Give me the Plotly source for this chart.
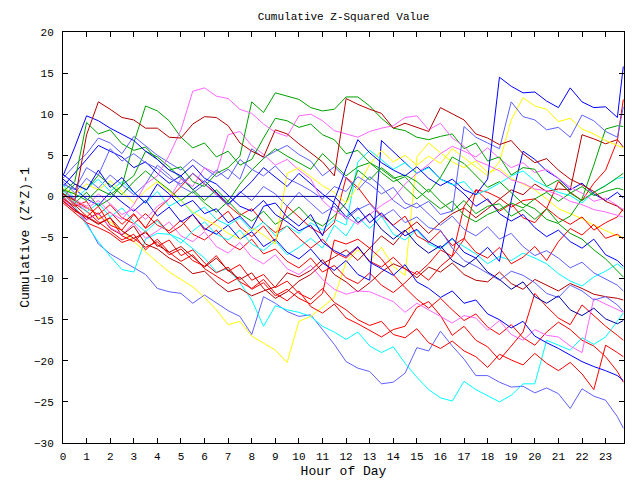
import plotly.graph_objects as go

# Hours (half-hourly samples plus the final quarter hour)
HOURS = [h * 0.5 for h in range(48)] + [23.75]
X_TICKS = list(range(24))
X_TICK_LABELS = [str(h) for h in X_TICKS]
Y_TICKS = [-30, -25, -20, -15, -10, -5, 0, 5, 10, 15, 20]

COLORS = {
    "red": "#ff0000", "darkred": "#b40000", "blue": "#0000ff", "lightblue": "#5f5fff",
    "green": "#00a000", "magenta": "#ff66ff", "cyan": "#00ffff", "yellow": "#ffff00",
    "navy": "#0000a0",
}

s01 = [0.3,-0.5,7.5,11.5,10.6,9.6,9.3,8.3,8.3,7.2,7.1,8.8,
       9.7,9.6,8.6,6.5,5.5,4.8,8.1,7.6,6.4,5.3,4.2,2.5,
       11.9,11.2,10.6,10.1,8.3,8.9,8.4,7.9,10.8,10.1,9.3,7.6,
       7.1,6.3,6.8,5.2,4.1,4.6,3.2,2.1,1.4,0.6,-0.6,-1.2,-1.8]
s02 = [2.5,6,9.8,9.2,8.3,7.5,6.8,5.5,4.5,3.2,2.5,3.8,
       2.2,1.5,0.2,-1.2,-1.8,-0.5,-2.2,-3.1,-4.2,-3.5,-5.6,-6.6,
       -7.3,-6.1,-8,-8.8,-9.6,-8.3,-10.4,-11.2,-12.3,-11.5,-13,-12.6,
       -14.3,-15,-16,-15.2,-17,-17.8,-18.5,-19.3,-20.1,-20.7,-21.2,-21.8,-22.4]
s03 = [0.2,-0.8,-1.5,-0.5,-2,-2.8,-1,1.5,2.5,5,8.1,12.8,
       13.2,12.2,11.9,10.6,10.1,8.8,7.8,7.3,9.8,10,9.2,8,
       7.6,7.2,7.9,8.3,8.6,9.6,9.8,8.1,8.9,7.1,6.1,4.4,
       3.8,3.1,2,1.6,0.9,0.7,0.2,-0.6,-1,-1.6,-1.9,-2.3,-2.5]
s04 = [0.6,1.8,9,7.6,8.1,6.4,5.6,6,4.5,3.2,3.6,1.8,
       1.2,2.8,3.5,4.9,11.5,10.2,12.6,12.2,11.8,10.8,10.4,10.6,
       12.1,12.1,11,9.5,8.3,8,7.2,6.9,7.3,7.6,5.8,6.5,
       4.3,4.8,2.6,3.5,3.3,1.2,2,0.4,-0.5,0.5,1.3,2.3,2.8]
s05 = [0.8,0.3,-0.5,0.9,0.2,1.3,6.5,11,10.4,9.2,7.2,5.9,
       6.5,4.8,5.5,3.8,4.5,7.1,9.5,9.2,8.4,8.8,7.5,6.9,
       5.2,5.6,4.1,3.3,2.2,2.6,1.8,0.5,2.3,4.8,4,2.6,
       1.1,1.8,0.5,-0.9,-1.5,-2.8,-3.3,-4.5,-5.2,-6.5,-7.6,-9,-9.8]
s06 = [2.7,1.5,0.8,3.2,1.1,2.3,0.5,-0.8,1.5,0.3,-1.2,-0.5,
       -2.1,-1.5,-3.2,-2.4,-3.9,-1.2,-0.8,-2.5,-3.6,-2.2,-4.8,-0.5,
       3.4,6.9,5.3,4.1,3.2,2.5,3.6,2.2,1.3,2.1,0.8,0.2,
       2.1,14.5,13.4,12.6,12.7,11.6,10.8,13.2,11.5,10.8,10.9,9.6,15.8]
s07 = [1.5,0.8,3.5,2.6,5.8,4.3,5.2,4.1,3.4,2.2,1.5,2.8,
       1.7,3.2,2.1,4.5,3.3,2.5,3.7,2.2,1.5,0.7,-0.3,1.2,
       0.6,2.4,1.5,0.3,1.1,-0.8,-1.4,-0.6,-2.2,-1.8,8.5,7.2,
       6.5,5.8,11.5,9.7,9.3,8.1,8.4,7.2,9.9,9.2,7.9,7.2,10.9]
s08 = [0,0,0,0,0,0,0,0,0,0,0,0,
       0,0,0,0,0,0,0,0,0,0,0,0,
       -1.5,-3.2,-2.1,-4,-5.2,-4.1,-5.8,-6.9,-6,-7.8,-8.6,-7.5,
       -9.2,-10.1,-11.3,-10.4,-12.2,-13,-12.1,-13.8,-14.5,-13.6,-14.9,-15.5,-15.1]
s09 = [-0.2,-1.5,-3.2,-5.8,-7,-7.8,-8.7,-9.5,-11.2,-11.6,-11.8,-13,
       -12,-13,-13.9,-14.6,-16.8,-12.2,-13,-14,-14.6,-14.4,-16.2,-18,
       -20.1,-20.9,-21.3,-22.8,-22.6,-21.5,-18.4,-18.8,-16.4,-18.2,-19.8,-21.8,
       -21.8,-22.6,-23.2,-23.1,-23.9,-23.3,-24,-25.8,-23.4,-24.3,-24.8,-26.8,-28.2]
s10 = [0.5,-1.2,-3.5,-5.5,-7.3,-8.9,-9.2,-5.2,-4.5,-4.6,-5.2,-6.3,
       -7.5,-9.2,-8.8,-10.5,-12.6,-15.8,-13.3,-13.8,-14.1,-14.6,-15.8,-16.5,
       -17.4,-16.5,-18.2,-19,-18.3,-20.3,-22,-23.5,-24.5,-24.9,-22.5,-23.5,
       -24.3,-25,-24.2,-22.8,-22.8,-17.5,-18.1,-18.7,-17.2,-18,-17.1,-15.2,-14.2]
s11 = [0.2,-0.6,-1.2,-2.5,-3.1,-4.2,-5.5,-6.8,-8,-9.2,-10.1,-11,
       -12.3,-13.8,-15.6,-15.2,-17,-17.9,-18.7,-20.2,-15.2,-14.6,-13.4,-12.3,
       -8,-6.5,-7.8,-6.2,-8.5,-9.6,4.8,6.5,5.3,4.2,3.5,4.3,
       2.9,3.4,2.2,1.5,0.8,-0.3,-1.5,-2.1,-2.7,-3.5,-4.2,-4.8,-5]
s12 = [1,0.3,1.5,0.8,1.9,0.5,-0.8,0.7,1.8,0.6,-0.5,-1.9,
       -2.8,-3.5,-4.5,-5.2,-3.8,-4.7,-5.8,2.8,3.5,2.4,1.3,0.5,
       -0.8,1.2,3.9,5.6,4.2,5,3.8,4.9,4,5.8,4.7,3.5,
       2.5,4.2,9.3,12,11,10.6,9.1,9.5,8.2,7.6,6.8,6.2,5.9]
s13 = [-0.5,-1.8,-2.5,-1.2,-3.5,-4.1,-2.2,-3.8,-1.6,-0.3,1.2,2.8,
       1.5,0.4,-1.1,-2.3,-1.5,-3.2,-4.4,-3.6,-5.1,-6.3,-5.2,-6.8,
       -7.5,-6.2,-7.9,-8.6,-7.4,-8.8,-9.5,-8.2,-6.5,-7.3,-1.2,0.8,
       -0.5,-1.8,-0.9,-2.6,-3.2,-1.5,1.8,0.5,-0.5,1.6,3.2,6.8,11.8]
s14 = [-0.8,-2,-3.2,-3.8,-4.5,-5.6,-5.1,-6.2,-5.5,-7.1,-6.4,-7.8,
       -8.5,-7.2,-9.1,-8.3,-10.2,-9.5,-11.1,-10.3,-11.8,-12.5,-11.2,-12.9,
       -13.8,-15,-15.7,-15.2,-16.8,-17.2,-16.1,-17.8,-18.5,-17.6,-18.8,-19.5,
       -20.8,-19.2,-19.9,-20.5,-19.1,-20.3,-21.2,-20.2,-21.6,-23.5,-18.1,-19,-19.5]
s15 = [0.3,-1.1,-2.4,-3.3,-2.6,-4.8,-5.5,-4.2,-6.1,-5.3,-7.2,-6.5,
       -8.1,-9.3,-8.6,-10.4,-11.2,-10.1,-11.8,-12.7,-11.5,-13.4,-14.2,-13.1,
       -14.8,-15.5,-16.3,-17.1,-16.2,-15.8,-13.5,-12.8,-14.5,-16.9,-15.8,-17.5,
       -18.3,-19.9,-18.2,-16.5,-11.8,-13.4,-14.8,-15.6,-13.2,-14.5,-15.8,-16.9,-17.5]
s16 = [0,-1.5,-2.8,-2,-3.9,-4.7,-3.6,-5.8,-6.4,-7.5,-8.2,-9.4,
       -9.1,-10.5,-11.6,-11.2,-12.1,-11.5,-11,-9.3,-9.8,-9,-7.7,-9.5,
       -10.4,-11.6,-10.5,-9.2,-8.2,-8.8,-9.9,-8.6,-9.2,-8.1,-9.5,-10.2,
       -10.4,-9.2,-10.6,-11.3,-10.1,-10.8,-11.5,-10.6,-11.2,-11.9,-12.2,-12.4,-12.6]
s17 = [-0.3,-1.2,-0.6,-2.8,-1.9,-3.4,-2.1,-3.9,-2.8,-4.5,-3.6,-2.2,
       -4.1,-3,-1.8,-3.7,-4.9,-3.6,-5.5,-1.2,-2.5,-3.8,-4.6,-3.2,
       2.3,1.1,-0.8,-2.3,-3.5,-2.4,-4.8,-5.6,-4.2,-6,-5.1,-6.8,
       -7.5,-6.2,-8.2,-7.4,-6.1,-7.8,-5.5,-3.9,-4.7,-3.4,-5.1,-4.6,-5.2]
s18 = [0.4,-0.9,-1.8,-3.1,-4.2,-5.3,-4.6,-6.5,-5.2,-6.8,-7.9,-7.1,
       -8.8,-9.7,-10.6,-9.8,-11.3,-10.5,-12.1,-11.3,-12.4,-13.1,-11.8,-5.3,
       -5.8,-5.2,-6.3,-7.6,-9.5,-11.1,-12.5,-13.6,-12.4,-13.8,-15.1,-14.3,
       -15.9,-16.8,-15.6,-17.2,-18.1,-16.5,-15.3,-16.2,-17.5,-18.2,-19.5,-21.3,-22.6]
s19 = [0.8,-0.5,-1.4,-2.2,-1,-2.6,-3.3,-2.1,-3.5,-4.2,-2.9,-4.6,
       -5.3,-4.1,-5.7,-6.5,-5.2,-7,-6.4,-7.9,-8.7,-7.5,-9.2,-8.4,
       -9.9,-10.6,-9.3,-10.8,-11.7,-10.5,-9.1,-10.2,-8.5,-7.3,-5.2,0.8,
       0.5,-0.2,-1.3,-0.5,-0.3,-1.5,-2.6,-3.4,-2.5,-4.1,-3.2,-2.5,-1.5]
s20 = [2.1,0.9,-0.3,-1.1,0.5,-0.7,-1.8,-0.5,-2.4,-1.3,-3.1,-2.2,
       -3.9,-4.6,-3.5,-5.2,-4.3,-6.1,-5.2,-6.8,-7.6,-6.4,-8.1,-9,
       -7.8,-9.5,-10.2,6.8,5.4,4.1,2.8,3.6,2.1,1.5,0.3,-1.2,
       -0.3,-2.1,-3,-2.2,-3.8,-4.9,-4.1,-5.5,-6.3,-5.2,-7.1,-7.8,-8.5]
s21 = [1.2,2.8,4.5,6.2,5.5,4.8,3.5,4.2,2.8,1.6,2.5,0.8,
       1.9,0.5,-0.9,0.4,1.8,3.5,2.3,1.2,2.8,1.5,0.3,-0.8,
       -2.5,-1.4,-3.2,-2,-3.6,-4.8,-4,-5.5,-6.3,-5.1,-6.8,-7.5,
       -6.2,-7.9,-0.5,5.5,4.5,3.1,2.2,0.8,1.6,0.3,-0.5,0.5,-0.2]
s22 = [2.2,3.8,5.2,7.1,6.5,5.2,7.3,6.1,5,4.1,3.2,4.5,
       3.5,2.4,3.3,2.1,5.8,4.7,5.5,6.2,5.1,4.3,2.5,3.6,
       2.2,0.8,2.4,1.2,-0.5,-1.5,-0.8,-2.2,-3.5,-2.4,-4,-4.8,
       -3.7,-5.2,-4.5,-6.1,-7.2,-6.6,-7.5,-8.7,-8,-9.3,-10.1,-10.8,-11.5]
s23 = [1.8,0.4,2.2,1,2.6,1.4,0.2,1.5,3.8,2.6,1.2,0.4,
       1.5,0.2,-1.1,0.6,-0.5,1.2,0.3,-1.2,0.5,-0.8,-2.1,-1.2,
       -2.8,-1.6,-0.9,-2.5,-1.6,-3.2,-2.5,-3.8,-4.1,-6.3,-7.8,-8.5,
       -9.4,-10.2,-9.1,-9.6,-10.5,-11.8,-12.3,-10.8,-11.5,-12.6,-12.2,-13.2,-14]
s24 = [1.4,-0.3,0.9,2.1,0.6,1.8,0.5,-0.8,0.6,-1.2,-0.4,-2.1,
       -1.3,-2.8,-3.5,-2.6,-4.2,-3.1,-4.8,-3.6,-4.5,-3.2,-4.1,-2.8,
       -3.5,4.2,5.6,4.5,3.3,4.1,2.8,3.5,2.1,1.4,1.8,0.2,
       0.8,1.6,2.5,3.1,1.9,1.2,0.5,0.1,-0.8,0.5,1.4,2.2,2.3]
s25 = [0.7,-0.6,-1.9,-0.8,-2.5,-1.4,-3.1,-4.3,-3,-4.5,-5.7,-4.2,
       -3.1,-4.6,-5.3,-4.1,-5.8,-6.6,-5.4,-7.1,-6.2,-5.1,-6.3,-3.5,
       -4.8,-2.5,-3.9,-2.4,-4.6,-5.3,-4.1,-5.8,-6.4,-5.2,-6.1,-7,
       -8.2,-7.3,-7.8,-6.9,-7.5,-8.2,-9.4,-10.3,-10.9,-9.8,-9.1,-8.2,-8.8]
s26 = [-0.4,-1.6,-2.9,-2.1,-3.8,-4.6,-3.3,-5.1,-4.2,-3.1,-4.8,-5.5,
       -4.3,-6.1,-6.9,-5.6,-7.4,-8.2,-7.1,-8.8,-9.5,-8.4,-10.1,-11.3,
       -11.9,-11.5,-11.6,-12.2,-12.8,-14.1,-13,-13.8,-14.6,-15.4,-14.5,-14.8,
       -16.3,-15.1,-16.8,-17.5,-16.2,-16.9,-17.1,-18.2,-19,-12.4,-13.1,-13.8,-14.1]
s27 = [0.3,-0.8,0.5,-1.2,-0.3,1.4,2.5,5.5,4.8,3.6,2.2,0.8,
       -0.5,0.8,-0.6,1.5,3.2,4.6,5.8,4.9,4.1,3.3,5.2,3.8,
       2.5,3.6,4.1,2.9,1.8,2.4,0.8,-0.4,-1.5,-0.6,-2.3,-3.1,
       -2.2,-1.6,-0.8,-1.4,-0.3,0.5,-0.6,0.4,1.2,0.1,0.6,1.0,0.8]
s28 = [-0.2,1.5,0.8,2.6,1.4,0.2,1.8,3.1,1.9,0.8,-0.5,0.6,
       -0.8,-1.9,-0.6,-2.1,-3,-1.8,-3.4,-2.5,-1.3,-2.8,-3.6,-2.4,
       -0.8,3.2,2,3.5,2.4,1.1,-0.3,0.9,-0.6,-1.8,-0.5,-2.1,
       -1.2,-0.9,-2.4,-1.6,-2.8,-1.5,-3.2,-2.4,-0.3,3.8,8.2,8.6,8.5]
s29 = [0.9,-0.4,-1.2,0.3,-0.9,-2.2,-1.5,-2.8,-1.2,-0.3,2.1,1.2,
       3.5,2.8,7.5,7.9,6.2,5.1,3.8,4.5,3.2,2.1,-0.5,-1.8,
       -2.5,-3.4,-2.2,-1.1,-0.2,1.5,2.8,3.9,5.2,6.1,5.5,4.8,
       5.9,4.6,3.5,4.1,2.9,3.3,2.2,1.1,0.4,-0.6,-0.2,-1.1,-1.6]
s30 = [-0.6,-1.7,-2.5,-3.4,-2.6,-4.2,-5.1,-4.4,-5.9,-6.8,-6.1,-7.4,
       -8.6,-7.5,-9,-10.1,-9.3,-11.2,-12.4,-11.6,-10.3,-9.5,-8.2,-7.4,
       -6.5,-7.8,-6.3,-4.8,-5.9,-4.2,-3.1,-4.5,-3.2,-2.1,-1.4,-2.6,
       -1.5,-0.4,0.8,0.2,1.5,0.6,0.9,0.8,7.5,7,6.4,6.9,6]

SERIES = [
    (s09, "lightblue"), (s10, "cyan"), (s11, "yellow"), (s14, "red"), (s15, "red"),
    (s16, "darkred"), (s18, "red"), (s19, "red"), (s26, "magenta"), (s30, "darkred"),
    (s25, "cyan"), (s17, "red"), (s13, "red"), (s23, "lightblue"), (s22, "lightblue"),
    (s20, "blue"), (s21, "blue"), (s24, "cyan"), (s28, "green"), (s27, "green"),
    (s29, "magenta"), (s12, "yellow"), (s08, "navy"), (s05, "green"), (s07, "lightblue"),
    (s04, "green"), (s03, "magenta"), (s02, "blue"), (s06, "blue"), (s01, "darkred"),
]

FONT = "Liberation Mono"

fig = go.Figure()
for vals, cname in SERIES:
    fig.add_trace(go.Scatter(
        x=HOURS, y=vals, mode="lines",
        line=dict(color=COLORS[cname], width=1),
        hoverinfo="skip", showlegend=False,
    ))

fig.update_layout(
    width=640, height=480,
    margin=dict(l=63, r=16, t=32, b=37),
    paper_bgcolor="white", plot_bgcolor="white",
    font=dict(family=FONT, size=11, color="black"),
    title=dict(text="Cumulative Z-Squared Value", x=0.5, xref="paper",
               y=1 - 16 / 480, yref="container", yanchor="middle",
               font=dict(family=FONT, size=11, color="black")),
    showlegend=False,
)
fig.update_xaxes(
    range=[0, 23.78], tickvals=X_TICKS, ticktext=X_TICK_LABELS,
    ticks="inside", ticklen=5, tickcolor="black", tickwidth=1,
    showline=True, linecolor="black", linewidth=1, mirror="ticks",
    showgrid=False, zeroline=False, automargin=False,
    title=dict(text="Hour of Day", standoff=3),
    ticklabelstandoff=3,
)
fig.update_yaxes(
    range=[-30, 20], tickvals=Y_TICKS,
    ticks="inside", ticklen=5, tickcolor="black", tickwidth=1,
    showline=True, linecolor="black", linewidth=1, mirror="ticks",
    showgrid=False, zeroline=False, automargin=False,
    title=dict(text="Cumulative (Z*Z)-1", standoff=1),
    ticklabelstandoff=6,
)

fig.write_html("out.html")
